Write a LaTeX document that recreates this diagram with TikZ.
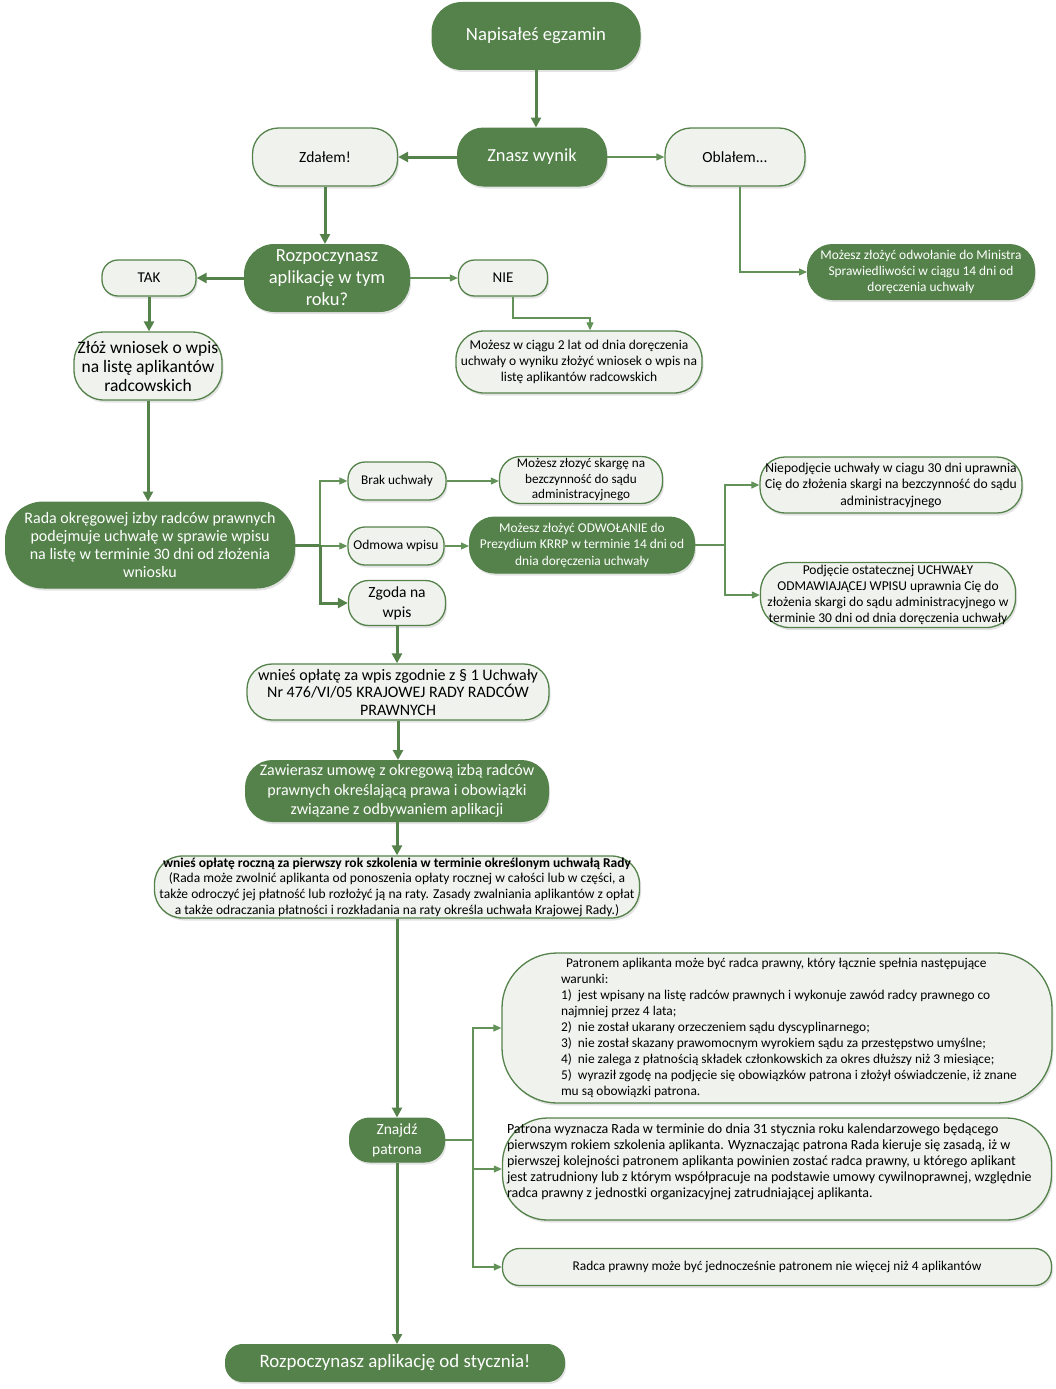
\documentclass[tikz,border=0pt]{standalone}
\usepackage{fontspec}
\setmainfont{Carlito}
\usetikzlibrary{arrows.meta,shadows}
\definecolor{boxgreen}{RGB}{84,130,74}
\definecolor{linegreen}{RGB}{98,146,88}
\definecolor{boxfill}{RGB}{240,242,238}
\newcommand{\fs}[2]{\fontsize{#1}{#2}\selectfont}

\begin{document}
\begin{tikzpicture}[x=1pt,y=-1pt,
  darkbox/.style={draw=boxgreen, fill=boxgreen, text=white, line width=1pt, align=center, inner sep=1pt,
    drop shadow={opacity=0.22, shadow xshift=1.5pt, shadow yshift=-2.5pt}},
  lightbox/.style={draw=boxgreen, fill=boxfill, text=black, line width=1.3pt, align=center, inner sep=1pt,
    drop shadow={opacity=0.22, shadow xshift=1.5pt, shadow yshift=-2.5pt}},
  thinline/.style={draw=linegreen, line width=1.1pt},
  thinarrow/.style={thinline, -{Triangle[length=8pt,width=7pt]}},
  thickline/.style={draw=boxgreen, line width=3pt},
  thickarrow/.style={thickline, -{Triangle[length=10pt,width=10pt]}}]
\useasboundingbox (0,0) rectangle (1056,1389);

% top part
\path (536,36) node (exam)[darkbox, minimum width=208pt, minimum height=67pt, rounded corners=30pt, font=\fs{18.7}{22}] {Napisałeś egzamin};
\path (532,157) node (result)[darkbox, minimum width=149pt, minimum height=58pt, rounded corners=26pt, font=\fs{18.4}{22}] {Znasz wynik};
\path (325,157) node (passed)[lightbox, minimum width=145pt, minimum height=58pt, rounded corners=26pt, font=\fs{15.5}{18}] {Zdałem!};
\path (735,157) node (failed)[lightbox, minimum width=140pt, minimum height=58pt, rounded corners=26pt, font=\fs{15.5}{18}] {Oblałem...};
\path (327,278) node (start)[darkbox, minimum width=165pt, minimum height=67pt, rounded corners=30pt, font=\fs{18.5}{22}] {Rozpoczynasz\\aplikację w tym\\roku?};
\path (149,278) node (yes)[lightbox, minimum width=94pt, minimum height=36pt, rounded corners=16pt, font=\fs{15}{18}] {TAK};
\path (503,278) node (no)[lightbox, minimum width=89pt, minimum height=36pt, rounded corners=16pt, font=\fs{15}{18}] {NIE};
\path (921,272) node (appeal)[darkbox, minimum width=227pt, minimum height=55pt, rounded corners=25pt, font=\fs{13.4}{16}] {Możesz złożyć odwołanie do Ministra\\Sprawiedliwości w ciągu 14 dni od\\doręczenia uchwały};
\path (148,366) node (apply)[lightbox, minimum width=148pt, minimum height=68pt, rounded corners=30pt, font=\fs{17.5}{19}] {Złóż wniosek o wpis\\na listę aplikantów\\radcowskich};
\path (579,362) node (later)[lightbox, minimum width=246pt, minimum height=62pt, rounded corners=28pt, font=\fs{13.5}{16}] {Możesz w ciągu 2 lat od dnia doręczenia\\uchwały o wyniku złożyć wniosek o wpis na\\listę aplikantów radcowskich};
\coordinate (nobend) at (590,318);

% decision of the council
\path (150,545) node (council)[darkbox, minimum width=289pt, minimum height=86pt, rounded corners=38pt, font=\fs{16}{18}] {Rada okręgowej izby radców prawnych\\podejmuje uchwałę w sprawie wpisu\\na listę w terminie 30 dni od złożenia\\wniosku};
\coordinate (split) at (320,545);
\path (397,481) node (nores)[lightbox, minimum width=98pt, minimum height=38pt, rounded corners=17pt, font=\fs{13.3}{15}] {Brak uchwały};
\path (581,480) node (complaint)[lightbox, minimum width=163pt, minimum height=47pt, rounded corners=21pt, font=\fs{13.2}{15.5}] {Możesz złozyć skargę na\\bezczynność do sądu\\administracyjnego};
\path (396,546) node (refuse)[lightbox, minimum width=96pt, minimum height=38pt, rounded corners=17pt, font=\fs{13.5}{15}] {Odmowa wpisu};
\path (397,603) node (agree)[lightbox, minimum width=97pt, minimum height=45pt, rounded corners=20pt, font=\fs{15.5}{20}] {Zgoda na\\wpis};
\path (582,545) node (appeal2)[darkbox, minimum width=225pt, minimum height=56pt, rounded corners=25pt, font=\fs{13.4}{16.5}] {Możesz złożyć ODWOŁANIE do\\Prezydium KRRP w terminie 14 dni od\\dnia doręczenia uchwały};
\coordinate (split2) at (725,545);
\path (891,485) node (nodec)[lightbox, minimum width=262pt, minimum height=56pt, rounded corners=25pt, font=\fs{13.6}{16.5}] {Niepodjęcie uchwały w ciagu 30 dni uprawnia\\Cię do złożenia skargi na bezczynność do sądu\\administracyjnego};
\path (888,595) node (dec)[lightbox, minimum width=255pt, minimum height=65pt, rounded corners=29pt, font=\fs{13.5}{16.2}] {Podjęcie ostatecznej UCHWAŁY\\ODMAWIAJĄCEJ WPISU uprawnia Cię do\\złożenia skargi do sądu administracyjnego w\\terminie 30 dni od dnia doręczenia uchwały};

% fees and contract
\path (398,692) node (fee)[lightbox, minimum width=302pt, minimum height=56pt, rounded corners=25pt, font=\fs{16}{17.5}] {wnieś opłatę za wpis zgodnie z § 1 Uchwały\\Nr 476/VI/05 KRAJOWEJ RADY RADCÓW\\PRAWNYCH};
\path (397,791) node (contract)[darkbox, minimum width=303pt, minimum height=61pt, rounded corners=27pt, font=\fs{16}{19.5}] {Zawierasz umowę z okregową izbą radców\\prawnych określającą prawa i obowiązki\\związane z odbywaniem aplikacji};
\path (397,887) node (annual)[lightbox, minimum width=485pt, minimum height=62pt, rounded corners=28pt, font=\fs{13.5}{15.7}] {\textbf{wnieś opłatę roczną za pierwszy rok szkolenia w terminie określonym uchwałą Rady}\\(Rada może zwolnić aplikanta od ponoszenia opłaty rocznej w całości lub w części, a\\także odroczyć jej płatność lub rozłożyć ją na raty. Zasady zwalniania aplikantów z opłat\\a także odraczania płatności i rozkładania na raty określa uchwała Krajowej Rady.)};

% patron
\path (397,1140) node (patron)[darkbox, minimum width=95pt, minimum height=44pt, rounded corners=20pt, font=\fs{15.5}{20}] {Znajdź\\patrona};
\coordinate (split3) at (473,1140);
\path (777,1028) node (cond)[lightbox, minimum width=549pt, minimum height=150pt, rounded corners=55pt, font=\fs{13.4}{16.1}] {\hspace*{58pt}\parbox{490pt}{\raggedright
  \hspace*{5pt}Patronem aplikanta może być radca prawny, który łącznie spełnia następujące\\
  warunki:\\
  1)\ \ jest wpisany na listę radców prawnych i wykonuje zawód radcy prawnego co\\
  najmniej przez 4 lata;\\
  2)\ \ nie został ukarany orzeczeniem sądu dyscyplinarnego;\\
  3)\ \ nie został skazany prawomocnym wyrokiem sądu za przestępstwo umyślne;\\
  4)\ \ nie zalega z płatnością składek członkowskich za okres dłuższy niż 3 miesiące;\\
  5)\ \ wyraził zgodę na podjęcie się obowiązków patrona i złożył oświadczenie, iż znane\\
  mu są obowiązki patrona.}};
\path (777,1169) node (assign)[lightbox, minimum width=549pt, minimum height=102pt, rounded corners=45pt, font=\fs{14}{16}] {\parbox[c][90pt][t]{540pt}{\raggedright
  Patrona wyznacza Rada w terminie do dnia 31 stycznia roku kalendarzowego będącego\\
  pierwszym rokiem szkolenia aplikanta. Wyznaczając patrona Rada kieruje się zasadą, iż w\\
  pierwszej kolejności patronem aplikanta powinien zostać radca prawny, u którego aplikant\\
  jest zatrudniony lub z którym współpracuje na podstawie umowy cywilnoprawnej, względnie\\
  radca prawny z jednostki organizacyjnej zatrudniającej aplikanta.}};
\path (777,1267) node (limit)[lightbox, minimum width=549pt, minimum height=37pt, rounded corners=17pt, font=\fs{13.4}{15}] {Radca prawny może być jednocześnie patronem nie więcej niż 4 aplikantów};
\path (395,1363) node (startjan)[darkbox, minimum width=339pt, minimum height=37pt, rounded corners=17pt, font=\fs{18.9}{21}] {Rozpoczynasz aplikację od stycznia!};

% connectors
\draw[thickarrow] (exam.south) -- (exam.south |- result.north);
\draw[thickarrow] (result.west) -- (passed.east);
\draw[thinarrow] (result.east) -- (failed.west);
\draw[thickarrow] (passed.south) -- (passed.south |- start.north);
\draw[thinarrow] ([xshift=5pt]failed.south) |- (appeal.west);
\draw[thickarrow] (start.west) -- (yes.east);
\draw[thinarrow] (start.east) -- (no.west);
\draw[thinarrow] ([xshift=10pt]no.south) |- (nobend) -- (nobend |- later.north);
\draw[thickarrow] (yes.south) -- (yes.south |- apply.north);
\draw[thickarrow] (apply.south) -- (apply.south |- council.north);

\draw[thickline] (council.east) -- (split);
\draw[thinarrow] (split) |- (nores.west);
\draw[thinarrow] (split) -- (split |- refuse.west) -- (refuse.west);
\draw[thickarrow] (split) |- (agree.west);
\draw[thinarrow] (nores.east) -- (complaint.west |- nores.east);
\draw[thinarrow] (refuse.east) -- (appeal2.west |- refuse.east);
\draw[thinline] (appeal2.east) -- (split2);
\draw[thinarrow] (split2) |- (nodec.west);
\draw[thinarrow] (split2) |- (dec.west);

\draw[thickarrow] (agree.south) -- (agree.south |- fee.north);
\draw[thickarrow] (fee.south) -- (fee.south |- contract.north);
\draw[thickarrow] (contract.south) -- (contract.south |- annual.north);
\draw[thickarrow] (annual.south) -- (annual.south |- patron.north);
\draw[thinline] (patron.east) -- (split3);
\draw[thinarrow] (split3) |- (cond.west);
\draw[thinarrow] (split3) |- (assign.west);
\draw[thinarrow] (split3) |- (limit.west);
\draw[thickarrow] (patron.south) -- (patron.south |- startjan.north);
\end{tikzpicture}
\end{document}
